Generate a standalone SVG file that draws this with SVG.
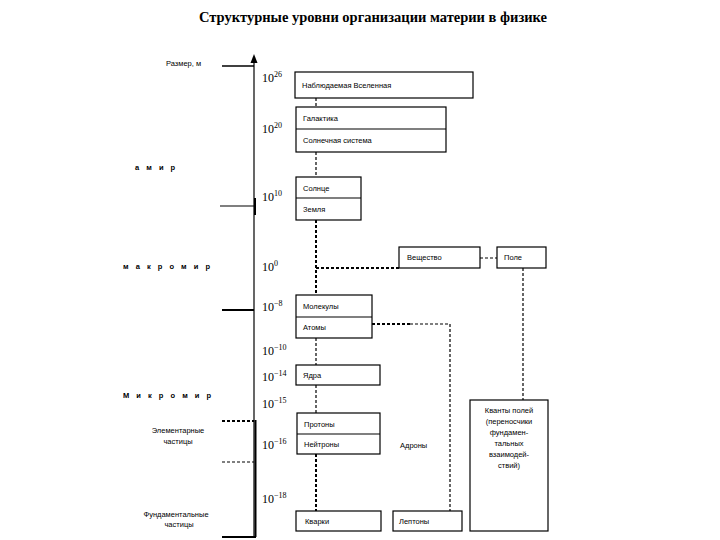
<svg xmlns="http://www.w3.org/2000/svg" width="720" height="540" viewBox="0 0 720 540">
<defs>
<style>
.box{fill:#fff;stroke:#000;stroke-width:1.2}
.lbl{font-family:"Liberation Sans",Arial,sans-serif;font-size:7.5px;fill:#000}
.side{font-family:"Liberation Sans",Arial,sans-serif;font-size:7.5px;fill:#000}
.sp{font-weight:bold;letter-spacing:2.5px}
.exp{font-family:"Liberation Serif","Times New Roman",serif;font-size:12px;fill:#000}
.sup{font-size:8px}
.dash{fill:none;stroke:#000;stroke-width:1.2;stroke-dasharray:3,2}
.dashb{fill:none;stroke:#000;stroke-width:2;stroke-dasharray:3,2}
.ax{fill:none;stroke:#000;stroke-width:1.2}
</style>
</defs>
<rect width="720" height="540" fill="#fff"/>
<text x="373" y="22" text-anchor="middle" font-family="Liberation Serif,'Times New Roman',serif" font-size="14.5" font-weight="bold">Структурные уровни организации материи в физике</text>

<g id="axis">
<line class="ax" x1="254" y1="537" x2="254" y2="62"/>
<polygon points="254,54 250.5,63 257.5,63" fill="#000"/>
<line x1="255.5" y1="420" x2="255.5" y2="537" stroke="#000" stroke-width="2"/>
<line x1="255" y1="198" x2="255" y2="215" stroke="#000" stroke-width="2"/>
<line x1="222" y1="66" x2="254" y2="66" stroke="#000" stroke-width="1.5"/>
<line x1="220" y1="206" x2="254" y2="206" stroke="#000" stroke-width="1.2"/>
<line x1="222" y1="310" x2="254" y2="310" stroke="#000" stroke-width="2"/>
<line class="dashb" x1="222" y1="421" x2="254" y2="421"/>
<line class="dash" x1="222" y1="462" x2="254" y2="462"/>
<line x1="222" y1="537" x2="256" y2="537" stroke="#000" stroke-width="2"/>
</g>

<g id="axis-labels">
<text class="side" x="166" y="66">Размер, м</text>
<text class="side sp" x="135" y="170">а м и р</text>
<text class="side sp" x="123" y="269">м а к р о м и р</text>
<text class="side sp" x="123" y="398">М и к р о м и р</text>
<text class="side" x="178" y="433" text-anchor="middle">Элементарные</text>
<text class="side" x="178" y="444" text-anchor="middle">частицы</text>
<text class="side" x="176" y="517" text-anchor="middle">Фундаментальные</text>
<text class="side" x="179" y="527" text-anchor="middle">частицы</text>
<text class="exp" x="262" y="82">10<tspan class="sup" dy="-5">26</tspan></text>
<text class="exp" x="262" y="133">10<tspan class="sup" dy="-5">20</tspan></text>
<text class="exp" x="262" y="201">10<tspan class="sup" dy="-5">10</tspan></text>
<text class="exp" x="262" y="271">10<tspan class="sup" dy="-5">0</tspan></text>
<text class="exp" x="262" y="311">10<tspan class="sup" dy="-5">−8</tspan></text>
<text class="exp" x="262" y="355">10<tspan class="sup" dy="-5">−10</tspan></text>
<text class="exp" x="262" y="381">10<tspan class="sup" dy="-5">−14</tspan></text>
<text class="exp" x="262" y="408">10<tspan class="sup" dy="-5">−15</tspan></text>
<text class="exp" x="262" y="449">10<tspan class="sup" dy="-5">−16</tspan></text>
<text class="exp" x="262" y="503">10<tspan class="sup" dy="-5">−18</tspan></text>
</g>

<g id="connectors">
<line class="dash" x1="316" y1="98" x2="316" y2="107"/>
<line class="dash" x1="316" y1="152" x2="316" y2="177"/>
<line class="dashb" x1="316" y1="220" x2="316" y2="295"/>
<line class="dashb" x1="316" y1="268" x2="399" y2="268"/>
<line class="dash" x1="480" y1="258" x2="497" y2="258"/>
<line class="dash" x1="523" y1="268" x2="523" y2="400"/>
<line class="dash" x1="316" y1="338" x2="316" y2="365"/>
<line class="dash" x1="316" y1="385" x2="316" y2="413"/>
<line class="dashb" x1="316" y1="454" x2="316" y2="511"/>
<line class="dashb" x1="372" y1="324" x2="410" y2="324"/>
<line class="dash" x1="410" y1="324" x2="450" y2="324"/>
<line class="dash" x1="450" y1="324" x2="450" y2="511"/>
</g>

<g id="n-universe"><rect class="box" x="295" y="72" width="178" height="26"/><text class="lbl" x="302" y="88">Наблюдаемая Вселенная</text></g>
<g id="n-galaxy"><rect class="box" x="296" y="107" width="150" height="45"/><line class="ax" x1="296" y1="129" x2="446" y2="129"/><text class="lbl" x="303" y="121">Галактика</text><text class="lbl" x="303" y="143">Солнечная система</text></g>
<g id="n-sun"><rect class="box" x="296" y="177" width="65" height="43"/><line class="ax" x1="296" y1="198" x2="361" y2="198"/><text class="lbl" x="303" y="191">Солнце</text><text class="lbl" x="303" y="212">Земля</text></g>
<g id="n-substance"><rect class="box" x="399" y="247" width="81" height="21"/><text class="lbl" x="407" y="260">Вещество</text></g>
<g id="n-field"><rect class="box" x="497" y="247" width="49" height="21"/><text class="lbl" x="504" y="260">Поле</text></g>
<g id="n-molecules"><rect class="box" x="296" y="295" width="76" height="43"/><line class="ax" x1="296" y1="317" x2="372" y2="317"/><text class="lbl" x="303" y="309">Молекулы</text><text class="lbl" x="303" y="330">Атомы</text></g>
<g id="n-nuclei"><rect class="box" x="296" y="365" width="84" height="20"/><text class="lbl" x="303" y="378">Ядра</text></g>
<g id="n-protons"><rect class="box" x="297" y="413" width="83" height="41"/><line class="ax" x1="297" y1="434" x2="380" y2="434"/><text class="lbl" x="304" y="427">Протоны</text><text class="lbl" x="304" y="447">Нейтроны</text></g>
<text class="lbl" x="400" y="448">Адроны</text>
<g id="n-quarks"><rect class="box" x="296" y="511" width="85" height="20" stroke-width="2"/><text class="lbl" x="305" y="524">Кварки</text></g>
<g id="n-leptons"><rect class="box" x="393" y="511" width="69" height="20"/><text class="lbl" x="399" y="524">Лептоны</text></g>
<g id="n-quanta"><rect class="box" x="470" y="400" width="78" height="131"/>
<text class="lbl" text-anchor="middle"><tspan x="509" y="413">Кванты полей</tspan><tspan x="509" y="424">(переносчики</tspan><tspan x="509" y="435">фундамен-</tspan><tspan x="509" y="446">тальных</tspan><tspan x="509" y="457">взаимодей-</tspan><tspan x="509" y="468">ствий)</tspan></text></g>
</svg>
